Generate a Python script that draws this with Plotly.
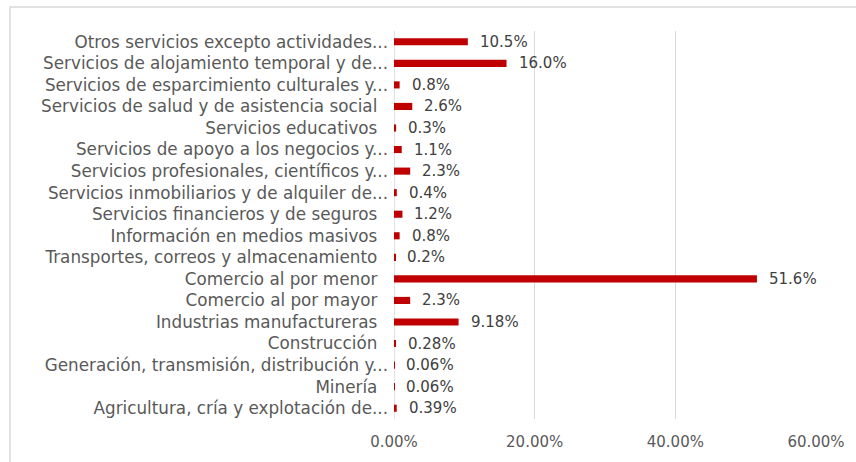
import plotly.graph_objects as go

# Sectors listed top to bottom as displayed
categories = [
    "Otros servicios excepto actividades...",
    "Servicios de alojamiento temporal y de...",
    "Servicios de esparcimiento culturales y...",
    "Servicios de salud y de asistencia social",
    "Servicios educativos",
    "Servicios de apoyo a los negocios y...",
    "Servicios profesionales, científicos y...",
    "Servicios inmobiliarios y de alquiler de...",
    "Servicios financieros y de seguros",
    "Información en medios masivos",
    "Transportes, correos y almacenamiento",
    "Comercio al por menor",
    "Comercio al por mayor",
    "Industrias manufactureras",
    "Construcción",
    "Generación, transmisión, distribución y...",
    "Minería",
    "Agricultura, cría y explotación de...",
]
shares = [10.5, 16.0, 0.8, 2.6, 0.3, 1.1, 2.3, 0.4, 1.2, 0.8, 0.2, 51.6, 2.3, 9.18, 0.28, 0.06, 0.06, 0.39]
label_decimals = [1, 1, 1, 1, 1, 1, 1, 1, 1, 1, 1, 1, 1, 2, 2, 2, 2, 2]
x_ticks = [0, 20, 40, 60]
x_tick_labels = ["0.00%", "20.00%", "40.00%", "60.00%"]

BAR = "#C00000"
TXT = "#595959"
FONT = "DejaVu Sans"

# Untruncated names sit a little further from the axis
tick_text = [c if c.endswith("...") else c + "\u00a0\u00a0" for c in categories]

fig = go.Figure(
    go.Bar(
        y=list(range(len(categories))),
        x=shares,
        orientation="h",
        marker=dict(color=BAR, line=dict(width=0)),
        width=0.33,
        hoverinfo="skip",
    )
)

annotations = [
    dict(
        x=v, y=i, xref="x", yref="y",
        text=f"{v:.{d}f}%",
        showarrow=False, xanchor="left", yanchor="middle",
        xshift=10,
        font=dict(family=FONT, size=15, color="#404040"),
    )
    for i, (v, d) in enumerate(zip(shares, label_decimals))
]

fig.update_layout(
    width=856, height=462,
    margin=dict(l=394, r=40, t=31, b=43),
    paper_bgcolor="white", plot_bgcolor="white",
    showlegend=False,
    font=dict(family=FONT, size=15, color=TXT),
    annotations=annotations,
    shapes=[
        dict(type="rect", xref="paper", yref="paper",
             x0=-0.91, x1=1.3, y0=-0.3, y1=1.062,
             line=dict(color="#D9D9D9", width=1.5), fillcolor="rgba(0,0,0,0)",
             layer="below"),
    ],
    xaxis=dict(
        range=[0, 60],
        tickvals=x_ticks, ticktext=x_tick_labels,
        showgrid=True, gridcolor="#D9D9D9", gridwidth=1.3,
        zeroline=False, showline=False,
        ticks="", ticklabelstandoff=12,
        tickfont=dict(family=FONT, size=15, color=TXT),
        fixedrange=True,
    ),
    yaxis=dict(
        range=[17.5, -0.5],
        tickvals=list(range(len(categories))), ticktext=tick_text,
        showgrid=False, zeroline=False,
        showline=False, ticks="", ticklabelstandoff=5,
        tickfont=dict(family=FONT, size=16.8, color=TXT),
        fixedrange=True,
    ),
)

# Vertical axis line at 0%
fig.add_shape(type="line", xref="x", yref="paper", x0=0, x1=0, y0=0, y1=1,
              line=dict(color="#D9D9D9", width=1.5), layer="below")

fig.write_html("out.html")
